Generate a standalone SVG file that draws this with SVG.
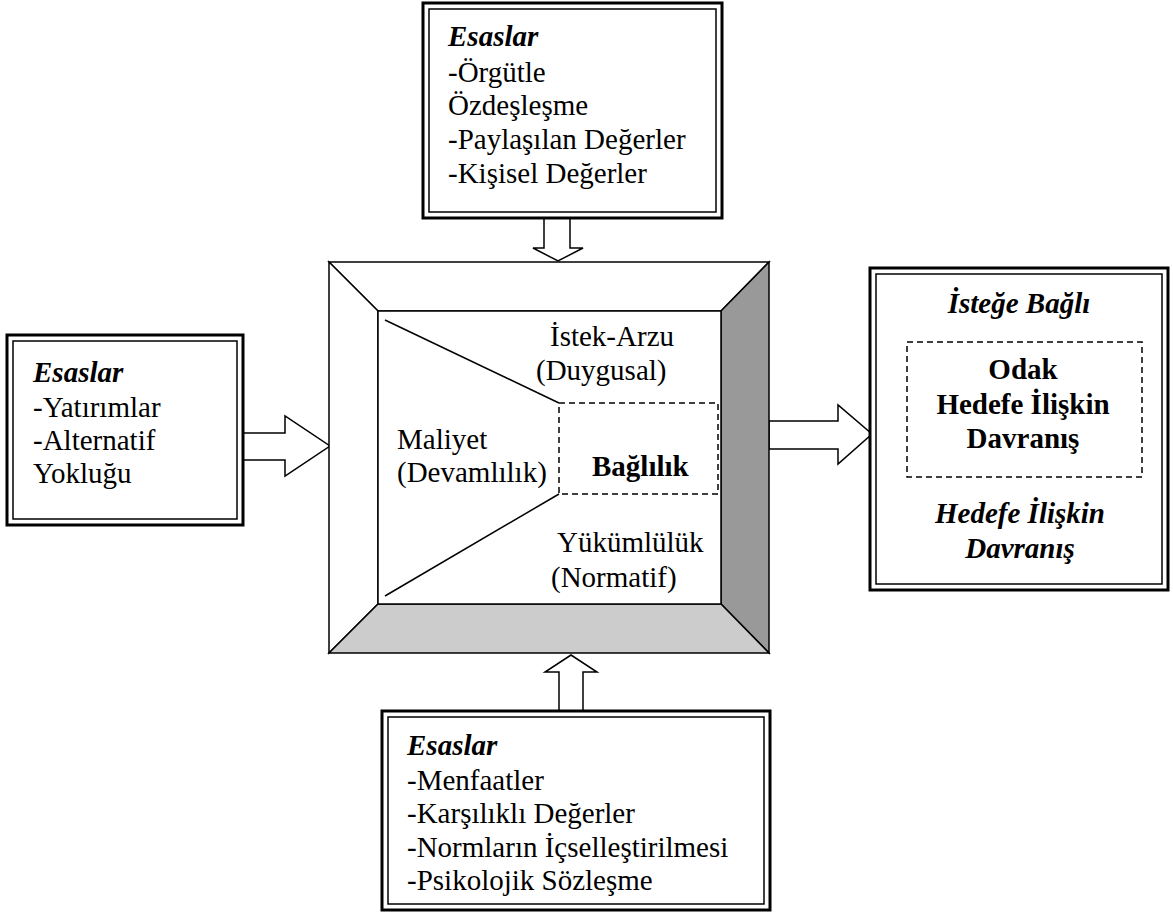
<svg xmlns="http://www.w3.org/2000/svg" width="1173" height="918" viewBox="0 0 1173 918">
<style>
text{font-family:"Liberation Serif","Times New Roman",serif;font-size:29px;fill:#000}
.bi{font-weight:bold;font-style:italic}
.b{font-weight:bold}
.outer{fill:#fff;stroke:#000;stroke-width:3}
.inner{fill:none;stroke:#000;stroke-width:1.5}
.ln{stroke:#000;stroke-width:1.5;fill:none}
.dash{fill:none;stroke:#000;stroke-width:1.5;stroke-dasharray:6,4}
.arr{fill:#fff;stroke:#000;stroke-width:1.5;stroke-linejoin:miter}
</style>
<rect width="1173" height="918" fill="#fff"/>
<g id="connectors">
<polygon class="arr" points="544,217 570,217 570,248 583,248 558,261 533,248 544,248"/>
<polygon class="arr" points="243,433 285,433 285,416 330,446 285,476 285,460 243,460"/>
<polygon class="arr" points="769,421 838,421 838,405 872,434 838,464 838,449 769,449"/>
<polygon class="arr" points="559,711 559,672 545,672 571,655 597,672 583,672 583,711"/>
</g>
<g id="top-box">
<rect class="outer" x="423" y="3" width="299" height="215"/>
<rect class="inner" x="429" y="9" width="287" height="203"/>
<text class="bi" x="448" y="46">Esaslar</text>
<text x="448" y="82">-Örgütle</text>
<text x="448" y="115">Özdeşleşme</text>
<text x="448" y="149">-Paylaşılan Değerler</text>
<text x="448" y="183">-Kişisel Değerler</text>
</g>
<g id="left-box">
<rect class="outer" x="7" y="335" width="236" height="190"/>
<rect class="inner" x="13" y="341" width="224" height="178"/>
<text class="bi" x="33" y="382">Esaslar</text>
<text x="33" y="417">-Yatırımlar</text>
<text x="33" y="450">-Alternatif</text>
<text x="33" y="483">Yokluğu</text>
</g>
<g id="main-box">
<polygon points="329,262 769,262 721,311 378,311" fill="#fff" stroke="#000" stroke-width="1.5"/>
<polygon points="329,262 378,311 378,604 329,653" fill="#fff" stroke="#000" stroke-width="1.5"/>
<polygon points="769,262 769,653 721,604 721,311" fill="#999" stroke="#000" stroke-width="1.5"/>
<polygon points="329,653 769,653 721,604 378,604" fill="#ccc" stroke="#000" stroke-width="1.5"/>
<rect x="378" y="311" width="343" height="293" fill="#fff" stroke="#000" stroke-width="1.5"/>
<line class="ln" x1="385" y1="320" x2="559" y2="403"/>
<line class="ln" x1="559" y1="494" x2="385" y2="596"/>
<rect class="dash" x="559" y="403" width="159" height="91"/>
<text x="550" y="346">İstek-Arzu</text>
<text x="536" y="380">(Duygusal)</text>
<text x="397" y="449">Maliyet</text>
<text x="397" y="482">(Devamlılık)</text>
<text class="b" x="592" y="476">Bağlılık</text>
<text x="557" y="552">Yükümlülük</text>
<text x="551" y="587">(Normatif)</text>
</g>
<g id="right-box">
<rect class="outer" x="870" y="268" width="298" height="322"/>
<rect class="inner" x="876" y="274" width="286" height="310"/>
<text class="bi" x="1019" y="313" text-anchor="middle">İsteğe Bağlı</text>
<rect class="dash" x="907" y="342" width="235" height="135"/>
<text class="b" x="1023" y="379" text-anchor="middle">Odak</text>
<text class="b" x="1023" y="414" text-anchor="middle">Hedefe İlişkin</text>
<text class="b" x="1023" y="448" text-anchor="middle">Davranış</text>
<text class="bi" x="1020" y="523" text-anchor="middle">Hedefe İlişkin</text>
<text class="bi" x="1020" y="558" text-anchor="middle">Davranış</text>
</g>
<g id="bottom-box">
<rect class="outer" x="382" y="711" width="388" height="199"/>
<rect class="inner" x="388" y="717" width="376" height="187"/>
<text class="bi" x="407" y="755">Esaslar</text>
<text x="407" y="790">-Menfaatler</text>
<text x="407" y="823">-Karşılıklı Değerler</text>
<text x="407" y="857">-Normların İçselleştirilmesi</text>
<text x="407" y="890">-Psikolojik Sözleşme</text>
</g>
</svg>
